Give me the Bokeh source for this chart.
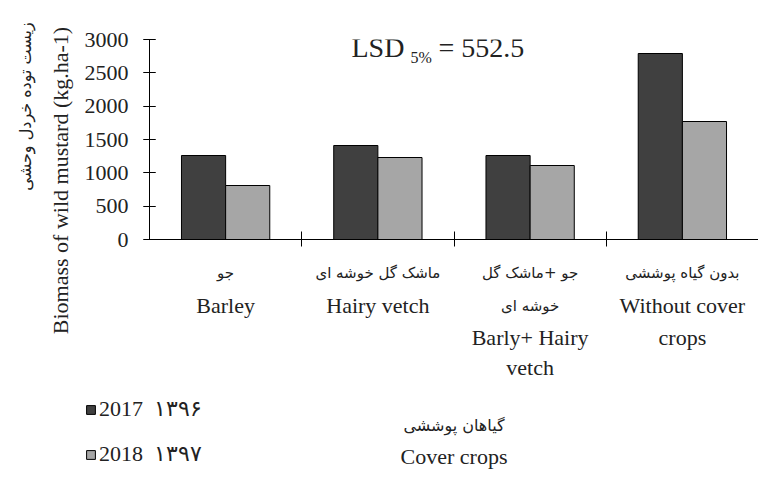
from bokeh.plotting import figure
from bokeh.layouts import row, column
from bokeh.models import ColumnDataSource, FixedTicker, Label, Legend, LegendItem, Range1d
from bokeh.transform import dodge
from bokeh.embed import file_html
from bokeh.resources import INLINE

# ---------------- data ----------------
categories_en = ["Barley", "Hairy vetch", "Barly+ Hairy vetch", "Without cover crops"]
categories_fa = ["جو", "ماشک گل خوشه ای", "جو +ماشک گل خوشه ای", "بدون گیاه پوششی"]
tick_label_lines = [
    ["جو", "Barley"],
    ["ماشک گل خوشه ای", "Hairy vetch"],
    ["جو +ماشک گل", "خوشه ای", "Barly+ Hairy", "vetch"],
    ["بدون گیاه پوششی", "Without cover", "crops"],
]
years = ["2017", "2018"]
years_fa = ["۱۳۹۶", "۱۳۹۷"]
biomass_2017 = [1260, 1410, 1260, 2790]
biomass_2018 = [810, 1230, 1110, 1770]
y_ticks = [0, 500, 1000, 1500, 2000, 2500, 3000]
lsd_value = "552.5"
y_title_en = "Biomass of wild mustard (kg.ha-1)"
y_title_fa = "زیست توده خردل وحشی"
x_title_en = "Cover crops"
x_title_fa = "گیاهان پوششی"

# ---------------- style / layout ----------------
SERIF = "Liberation Serif"
ARABIC = "DejaVu Sans"
TXT = "#222222"
DARK = "#404040"
LIGHT = "#a6a6a6"
W, H = 758, 471
LEFT_W = 74          # strip holding the rotated y titles
MAIN_H = 251         # main chart height
FRAME_LEFT = 75      # from strip edge to y axis
FRAME_TOP = 39
FRAME_BOTTOM = 12
LOWER_H = H - MAIN_H
RIGHT_W = W - LEFT_W


def is_fa(s):
    return any("\u0600" <= c <= "\u06ff" for c in s)


def blank(fig):
    fig.outline_line_color = None
    fig.background_fill_color = "white"
    fig.border_fill_color = "white"
    return fig


n = len(categories_en)
source = ColumnDataSource(dict(idx=list(range(n)), y2017=biomass_2017, y2018=biomass_2018))

# ---------------- main chart ----------------
p = figure(width=RIGHT_W, height=MAIN_H, x_range=Range1d(-0.5, n - 0.5), y_range=Range1d(0, 3000),
           output_backend="svg", toolbar_location=None,
           min_border_left=FRAME_LEFT, min_border_right=0, min_border_top=FRAME_TOP,
           min_border_bottom=FRAME_BOTTOM)
blank(p)
p.xgrid.visible = False
p.ygrid.visible = False

bar_w = 0.29
bar_styles = [dict(fill_color=DARK, line_color="black", line_width=1),
              dict(fill_color=LIGHT, line_color="black", line_width=1)]
r1 = p.vbar(x=dodge("idx", -bar_w / 2), top="y2017", width=bar_w, bottom=0, source=source,
            **bar_styles[0])
r2 = p.vbar(x=dodge("idx", bar_w / 2), top="y2018", width=bar_w, bottom=0, source=source,
            **bar_styles[1])

xa = p.xaxis[0]
xa.ticker = FixedTicker(ticks=[], minor_ticks=[i + 0.5 for i in range(n - 1)])
xa.major_tick_line_color = None
xa.major_label_text_font_size = "0px"
xa.major_label_standoff = 0
xa.minor_tick_in = 8
xa.minor_tick_out = 7
xa.minor_tick_line_color = "black"
xa.axis_line_color = "black"

ya = p.yaxis[0]
ya.ticker = FixedTicker(ticks=y_ticks, minor_ticks=y_ticks)
ya.major_tick_in = 6
ya.major_tick_out = 6
ya.minor_tick_in = 6
ya.minor_tick_out = 6
ya.major_tick_line_color = "black"
ya.minor_tick_line_color = "black"
ya.axis_line_color = "black"
ya.major_label_text_font = SERIF
ya.major_label_text_font_size = "22px"
ya.major_label_text_color = TXT
ya.major_label_standoff = 15

# LSD annotation (inside the plot frame, screen offsets from frame bottom-left)
p.add_layout(Label(x=202, y=192, x_units="screen", y_units="screen", text="LSD",
                   text_align="left", text_baseline="middle", text_font=SERIF,
                   text_font_size="28px", text_color=TXT))
p.add_layout(Label(x=261, y=182, x_units="screen", y_units="screen", text="5%",
                   text_align="left", text_baseline="middle", text_font=SERIF,
                   text_font_size="16px", text_color=TXT))
p.add_layout(Label(x=289, y=192, x_units="screen", y_units="screen", text="= " + lsd_value,
                   text_align="left", text_baseline="middle", text_font=SERIF,
                   text_font_size="28px", text_color=TXT))

# ---------------- left strip: rotated y titles ----------------
left = figure(width=LEFT_W, height=H, x_range=Range1d(0, LEFT_W), y_range=Range1d(H, 0),
              x_axis_type=None, y_axis_type=None, output_backend="svg", toolbar_location=None,
              min_border=0, min_border_left=0, min_border_right=0, min_border_top=0,
              min_border_bottom=0)
blank(left)
left.add_layout(Label(x=60, y=180, text=y_title_en, angle=90, angle_units="deg",
                      text_align="center", text_baseline="middle", text_font=SERIF,
                      text_font_size="22px", text_color=TXT))
left.add_layout(Label(x=25, y=106, text=y_title_fa, angle=90, angle_units="deg",
                      text_align="center", text_baseline="middle", text_font=ARABIC,
                      text_font_size="16px", text_color=TXT))

# ---------------- lower strip: category labels, legend, x title ----------------
# its frame spans the whole strip; x range chosen so category positions match the chart above
px_per_cat = (RIGHT_W - FRAME_LEFT) / n
lower = figure(width=RIGHT_W, height=LOWER_H,
               x_range=Range1d(-0.5 - FRAME_LEFT / px_per_cat, n - 0.5), y_range=Range1d(LOWER_H, 0),
               x_axis_type=None, y_axis_type=None, output_backend="svg", toolbar_location=None,
               min_border=0, min_border_left=0, min_border_right=0, min_border_top=0,
               min_border_bottom=0)
blank(lower)

line_y = [21, 54, 86, 116]
for i, lines in enumerate(tick_label_lines):
    for j, t in enumerate(lines):
        fa = is_fa(t)
        lower.add_layout(Label(x=i, y=line_y[j], text=t, text_align="center", text_baseline="middle",
                               text_font=ARABIC if fa else SERIF,
                               text_font_size="15px" if fa else "22px", text_color=TXT))

xmid = (n - 1) / 2
lower.add_layout(Label(x=xmid, y=174, text=x_title_fa, text_align="center", text_baseline="middle",
                       text_font=ARABIC, text_font_size="16px", text_color=TXT))
lower.add_layout(Label(x=xmid, y=205, text=x_title_en, text_align="center", text_baseline="middle",
                       text_font=SERIF, text_font_size="22px", text_color=TXT))

# legend swatches come from hidden copies of the bar renderers
h1 = lower.vbar(x="idx", top="y2017", width=bar_w, source=source, visible=False, **bar_styles[0])
h2 = lower.vbar(x="idx", top="y2018", width=bar_w, source=source, visible=False, **bar_styles[1])
legend = Legend(items=[LegendItem(label=f"{years[0]}  {years_fa[0]}", renderers=[h1]),
                       LegendItem(label=f"{years[1]}  {years_fa[1]}", renderers=[h2])],
                location=(11, 4), orientation="vertical",
                glyph_width=11, glyph_height=11, label_height=20, label_standoff=3,
                spacing=19, padding=0, margin=0, border_line_color=None,
                background_fill_alpha=0, inactive_fill_alpha=0,
                label_text_font=SERIF, label_text_font_size="22px", label_text_color=TXT)
lower.add_layout(legend)

layout = row(left, column(p, row(lower)))
open("out.html", "w").write(file_html(layout, INLINE))
